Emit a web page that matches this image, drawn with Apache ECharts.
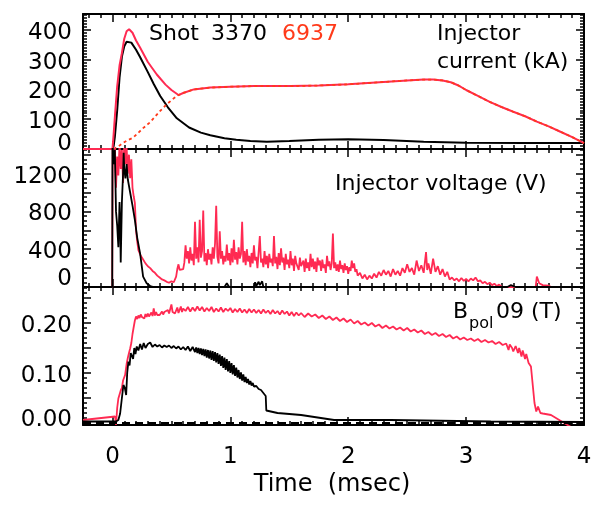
<!DOCTYPE html>
<html><head><meta charset="utf-8">
<script src="https://cdn.jsdelivr.net/npm/echarts@6/dist/echarts.min.js"></script>
<style>html,body{margin:0;padding:0;background:#fff}#c{width:594px;height:510px}</style>
</head><body><div id="c"></div>
<script>
// ---------- tick labels ----------
const timeTicks = [0, 1, 2, 3, 4];
const currentTicks = [0, 100, 200, 300, 400];
const voltageTicks = [0, 400, 800, 1200];
const bpolTicks = [0, 0.1, 0.2];

// ---------- Injector current (kA) ----------
const current3370 = [[-0.25,0],[0,0],[0.01,10],[0.02,40],[0.04,130],[0.06,240],[0.08,310],[0.1,345],[0.12,360],[0.135,364],[0.16,357],[0.2,333],[0.235,308],[0.3,258],[0.35,218],[0.405,178],[0.47,140],[0.546,103],[0.65,72],[0.75,55],[0.83,46],[0.95,36],[1.05,31],[1.17,27],[1.31,24],[1.5,27],[1.75,31],[2.0,33],[2.3,30],[2.64,24],[3.0,21],[3.5,20],[4.0,20]];
const current6937 = [[-0.25,0],[0,0],[0.01,50],[0.022,117],[0.04,210],[0.06,280],[0.079,320],[0.1,370],[0.12,395],[0.141,402],[0.17,390],[0.2,364],[0.235,340],[0.3,292],[0.376,250],[0.45,216],[0.5,198],[0.56,181],[0.6,188],[0.69,200],[0.83,206],[1.0,209],[1.2,211],[1.51,211],[1.75,213],[2.0,217],[2.3,225],[2.5,230],[2.64,233],[2.72,233],[2.8,230],[2.87,224],[2.93,214],[3.0,198],[3.1,178],[3.2,158],[3.3,141],[3.4,125],[3.5,110],[3.6,92],[3.7,76],[3.8,58],[3.9,40],[4.0,20]];
const current6937Bank = [[0.01,0],[0.06,12],[0.12,28],[0.175,38],[0.26,70],[0.32,90],[0.405,128],[0.46,150],[0.52,170],[0.56,181]];

// ---------- Injector voltage (V) ----------
const voltage3370 = [[-0.25,0],[-0.002,0],[0,1520],[0.01,1300],[0.02,1450],[0.03,800],[0.04,650],[0.05,420],[0.06,900],[0.065,700],[0.07,260],[0.08,900],[0.09,1200],[0.095,1420],[0.1,1250],[0.11,1150],[0.12,1300],[0.13,1140],[0.15,1000],[0.17,860],[0.19,710],[0.21,520],[0.235,350],[0.26,110],[0.29,40],[0.32,10],[0.35,0],[0.95,0],[0.97,40],[0.99,0],[1.2,0],[1.21,50],[1.22,10],[1.24,55],[1.25,20],[1.27,60],[1.28,0],[3.35,0],[3.38,20],[3.42,0],[4.0,0]];
const voltage6937 = [[-0.25,0],[-0.002,0],[0,0],[0.002,1520],[0.01,1300],[0.02,1520],[0.03,1050],[0.04,1380],[0.05,1180],[0.06,1520],[0.07,1250],[0.08,1450],[0.09,1100],[0.1,1520],[0.11,1300],[0.12,1480],[0.13,1200],[0.14,1400],[0.15,1150],[0.16,1350],[0.17,1050],[0.18,960],[0.19,890],[0.2,600],[0.21,480],[0.22,390],[0.24,330],[0.26,290],[0.28,250],[0.3,220],[0.32,200],[0.34,170],[0.36,150],[0.38,120],[0.4,100],[0.42,80],[0.44,70],[0.46,55],[0.48,45],[0.5,60],[0.52,50],[0.54,110],[0.55,190],[0.56,240],[0.57,180],[0.58,170],[0.6,190],[0.61,260],[0.62,440],[0.63,300],[0.64,380],[0.65,250],[0.66,420],[0.67,280],[0.68,350],[0.69,230],[0.7,690],[0.71,300],[0.72,420],[0.73,260],[0.74,710],[0.75,310],[0.76,380],[0.77,810],[0.78,270],[0.79,360],[0.8,230],[0.81,400],[0.82,290],[0.83,350],[0.84,240],[0.85,420],[0.86,300],[0.87,460],[0.88,860],[0.89,320],[0.9,250],[0.91,590],[0.92,300],[0.93,380],[0.94,240],[0.95,330],[0.96,270],[0.97,450],[0.98,280],[0.99,360],[1.0,230],[1.01,410],[1.02,260],[1.03,500],[1.04,290],[1.05,370],[1.06,240],[1.07,420],[1.08,300],[1.09,350],[1.1,690],[1.11,260],[1.12,380],[1.13,230],[1.14,400],[1.15,270],[1.16,330],[1.17,210],[1.18,360],[1.19,250],[1.2,440],[1.21,280],[1.22,320],[1.23,200],[1.24,370],[1.25,540],[1.26,260],[1.27,300],[1.28,210],[1.29,380],[1.3,240],[1.31,330],[1.32,200],[1.33,350],[1.34,260],[1.35,300],[1.36,220],[1.37,540],[1.38,250],[1.39,320],[1.4,190],[1.41,360],[1.42,230],[1.43,410],[1.44,260],[1.45,310],[1.46,180],[1.47,350],[1.48,240],[1.49,290],[1.5,200],[1.51,380],[1.52,230],[1.53,300],[1.54,170],[1.55,330],[1.56,250],[1.57,270],[1.58,180],[1.59,310],[1.6,220],[1.62,280],[1.63,160],[1.64,300],[1.65,200],[1.66,260],[1.67,170],[1.68,350],[1.69,210],[1.7,300],[1.71,190],[1.72,270],[1.73,160],[1.74,310],[1.75,230],[1.76,280],[1.77,170],[1.78,290],[1.79,200],[1.8,240],[1.81,150],[1.82,330],[1.83,220],[1.84,270],[1.85,180],[1.86,250],[1.87,565],[1.88,200],[1.89,260],[1.9,170],[1.91,240],[1.92,160],[1.93,280],[1.94,190],[1.95,230],[1.96,150],[1.97,250],[1.98,180],[1.99,220],[2.0,140],[2.01,210],[2.02,170],[2.03,280],[2.04,200],[2.05,250],[2.06,160],[2.07,190],[2.08,120],[2.1,150],[2.12,90],[2.14,130],[2.16,80],[2.18,120],[2.2,90],[2.22,140],[2.24,100],[2.26,160],[2.28,120],[2.3,180],[2.32,130],[2.34,170],[2.36,110],[2.38,190],[2.4,130],[2.42,170],[2.44,120],[2.46,200],[2.48,150],[2.5,240],[2.52,160],[2.54,200],[2.56,130],[2.58,280],[2.6,170],[2.62,230],[2.64,150],[2.66,370],[2.67,180],[2.68,250],[2.7,140],[2.72,300],[2.74,160],[2.76,220],[2.78,130],[2.8,190],[2.82,110],[2.84,160],[2.86,80],[2.88,100],[2.9,70],[2.92,90],[2.94,60],[2.96,95],[2.98,65],[3.0,85],[3.02,60],[3.04,90],[3.06,70],[3.08,100],[3.1,60],[3.12,70],[3.14,40],[3.16,55],[3.18,30],[3.2,45],[3.22,20],[3.24,35],[3.26,10],[3.28,25],[3.3,5],[3.35,0],[3.5,0],[3.59,0],[3.6,110],[3.62,40],[3.65,20],[3.7,15],[3.72,0],[4.0,0]];

// ---------- Bpol09 (T) ----------
const bpol3370 = [[-0.25,0.003],[0.03,0.003],[0.05,0.006],[0.065,0.019],[0.08,0.05],[0.093,0.076],[0.105,0.07],[0.116,0.056],[0.125,0.1],[0.135,0.123],[0.145,0.115],[0.155,0.14],[0.164,0.143],[0.175,0.128],[0.185,0.15],[0.195,0.138],[0.206,0.153],[0.22,0.145],[0.235,0.158],[0.25,0.147],[0.265,0.16],[0.28,0.15],[0.3,0.158],[0.32,0.161],[0.34,0.152],[0.36,0.157],[0.38,0.153],[0.4,0.156],[0.42,0.151],[0.44,0.155],[0.46,0.152],[0.48,0.155],[0.5,0.15],[0.52,0.154],[0.54,0.149],[0.56,0.153],[0.58,0.147],[0.6,0.152],[0.62,0.146],[0.64,0.153],[0.66,0.144],[0.68,0.152],[0.7,0.142],[0.71,0.151],[0.72,0.14],[0.73,0.15],[0.74,0.138],[0.75,0.149],[0.76,0.136],[0.77,0.148],[0.78,0.134],[0.79,0.147],[0.8,0.131],[0.81,0.146],[0.82,0.129],[0.83,0.145],[0.84,0.126],[0.85,0.144],[0.86,0.124],[0.87,0.142],[0.88,0.121],[0.89,0.14],[0.9,0.118],[0.91,0.137],[0.92,0.114],[0.93,0.134],[0.94,0.11],[0.95,0.131],[0.96,0.106],[0.97,0.128],[0.98,0.103],[0.99,0.124],[1.0,0.1],[1.01,0.12],[1.02,0.097],[1.03,0.116],[1.04,0.094],[1.05,0.111],[1.06,0.091],[1.07,0.106],[1.08,0.088],[1.09,0.101],[1.1,0.085],[1.11,0.097],[1.12,0.082],[1.13,0.092],[1.14,0.08],[1.15,0.088],[1.16,0.077],[1.17,0.084],[1.18,0.075],[1.19,0.08],[1.2,0.073],[1.22,0.074],[1.24,0.068],[1.26,0.066],[1.28,0.06],[1.3,0.054],[1.305,0.025],[1.4,0.02],[1.6,0.016],[1.88,0.006],[2.36,0.006],[3.21,0.003],[4.0,0.002]];
const bpol6937 = [[-0.25,0.006],[0.022,0.013],[0.03,-0.004],[0.04,0.03],[0.05,0.049],[0.06,0.045],[0.07,0.065],[0.08,0.07],[0.09,0.085],[0.107,0.096],[0.12,0.118],[0.13,0.13],[0.14,0.14],[0.15,0.149],[0.16,0.16],[0.17,0.178],[0.178,0.189],[0.19,0.205],[0.2,0.213],[0.21,0.208],[0.22,0.215],[0.23,0.21],[0.24,0.217],[0.25,0.212],[0.26,0.216],[0.27,0.209],[0.28,0.218],[0.29,0.212],[0.3,0.219],[0.31,0.213],[0.32,0.217],[0.33,0.221],[0.34,0.214],[0.35,0.229],[0.36,0.215],[0.37,0.222],[0.38,0.216],[0.39,0.22],[0.4,0.216],[0.42,0.223],[0.43,0.217],[0.44,0.222],[0.45,0.218],[0.47,0.226],[0.48,0.219],[0.5,0.237],[0.51,0.222],[0.52,0.226],[0.53,0.219],[0.55,0.231],[0.56,0.22],[0.58,0.233],[0.59,0.222],[0.6,0.229],[0.62,0.224],[0.64,0.232],[0.66,0.223],[0.68,0.231],[0.7,0.224],[0.72,0.233],[0.74,0.225],[0.76,0.232],[0.78,0.223],[0.8,0.23],[0.82,0.224],[0.84,0.232],[0.86,0.222],[0.88,0.229],[0.9,0.223],[0.92,0.231],[0.94,0.222],[0.96,0.229],[0.98,0.224],[1.0,0.23],[1.02,0.221],[1.04,0.228],[1.06,0.222],[1.08,0.229],[1.1,0.221],[1.12,0.227],[1.14,0.22],[1.16,0.228],[1.18,0.221],[1.2,0.227],[1.22,0.22],[1.24,0.226],[1.26,0.219],[1.28,0.227],[1.3,0.22],[1.32,0.225],[1.34,0.218],[1.36,0.226],[1.38,0.219],[1.4,0.224],[1.42,0.217],[1.44,0.225],[1.46,0.218],[1.48,0.223],[1.5,0.215],[1.52,0.222],[1.54,0.214],[1.56,0.221],[1.58,0.215],[1.6,0.22],[1.63,0.212],[1.66,0.219],[1.69,0.213],[1.72,0.217],[1.75,0.21],[1.78,0.215],[1.81,0.208],[1.84,0.213],[1.87,0.206],[1.9,0.211],[1.93,0.204],[1.96,0.209],[1.99,0.202],[2.02,0.207],[2.05,0.199],[2.08,0.204],[2.11,0.197],[2.14,0.201],[2.17,0.195],[2.2,0.2],[2.23,0.193],[2.26,0.197],[2.29,0.19],[2.32,0.195],[2.35,0.189],[2.38,0.193],[2.41,0.187],[2.44,0.191],[2.47,0.185],[2.5,0.19],[2.53,0.183],[2.56,0.187],[2.59,0.181],[2.62,0.185],[2.65,0.178],[2.68,0.182],[2.71,0.176],[2.74,0.18],[2.77,0.174],[2.8,0.178],[2.83,0.172],[2.86,0.176],[2.89,0.169],[2.92,0.173],[2.95,0.167],[2.98,0.171],[3.01,0.166],[3.04,0.169],[3.07,0.164],[3.1,0.168],[3.13,0.162],[3.16,0.166],[3.19,0.161],[3.22,0.164],[3.25,0.158],[3.28,0.162],[3.31,0.156],[3.34,0.159],[3.36,0.146],[3.37,0.157],[3.39,0.15],[3.4,0.143],[3.42,0.154],[3.44,0.14],[3.45,0.15],[3.47,0.133],[3.48,0.145],[3.5,0.128],[3.51,0.138],[3.53,0.12],[3.55,0.113],[3.58,0.04],[3.595,0.023],[3.61,0.033],[3.63,0.02],[3.65,0.019],[3.72,0.016],[3.86,-0.004],[3.92,-0.012]];
const bpolZero = [[-0.25,0],[4,0]];

// ---------- layout ----------
const FONT = 'DejaVu Sans';
const RED = '#ff2a52';
const RED_DASH = '#ff3a1a';
const LABEL_SIZE = 23;
const grids = [
  {left:83, right:10, top:14, height:135},
  {left:83, right:10, top:149, height:138},
  {left:83, right:10, top:287, height:138}
];
function steps(a, b, s) { const o = []; const n = Math.round((b - a) / s); for (let i = 0; i <= n; i++) o.push(+(a + i * s).toFixed(6)); return o; }
const xMinor = steps(-0.2, 4, 0.1);
const yCfg = [
  {min:0, max:453, major:steps(0,400,100), minor:steps(0,450,10), labels:currentTicks, fmt:v=>String(v), zshift:10},
  {min:0, max:1460, major:steps(0,1400,200), minor:steps(0,1450,50), labels:voltageTicks, fmt:v=>String(v), zshift:15},
  {min:-0.004, max:0.272, major:steps(0,0.25,0.05), minor:steps(0,0.27,0.01), labels:bpolTicks, fmt:v=>v.toFixed(2), zshift:6}
];
const tickStyle = {color:'#000', width:1.5};
const lineSty = {color:'#000', width:2};
const xAxis = [], yAxis = [];
grids.forEach((g, i) => {
  ['bottom','top'].forEach(pos => {
    xAxis.push({gridIndex:i, type:'value', min:-0.25, max:4, position:pos, splitLine:{show:false},
      axisLine:{show:true, onZero:false, lineStyle:lineSty},
      axisTick:{show:true, inside:true, length:4, customValues:xMinor, lineStyle:tickStyle},
      axisLabel:{show:false}});
    xAxis.push({gridIndex:i, type:'value', min:-0.25, max:4, position:pos, splitLine:{show:false},
      axisLine:{show:false, onZero:false},
      axisTick:{show:true, inside:true, length:8, customValues:timeTicks, lineStyle:tickStyle},
      axisLabel:{show:(pos==='bottom' && i===2), customValues:timeTicks, fontFamily:FONT, fontSize:LABEL_SIZE, color:'#000', margin:21}});
  });
  const c = yCfg[i];
  const zeroLabels = c.labels.filter(v => Math.abs(v) < 1e-9);
  const otherLabels = c.labels.filter(v => Math.abs(v) >= 1e-9);
  ['left','right'].forEach(pos => {
    // minor ticks + axis line (+ the zero label, raised as in the original)
    yAxis.push({gridIndex:i, type:'value', min:c.min, max:c.max, position:pos, splitLine:{show:false},
      axisLine:{show:true, onZero:false, lineStyle:lineSty},
      axisTick:{show:true, inside:true, length:4, customValues:c.minor, lineStyle:tickStyle},
      axisLabel:{show:pos==='left', customValues:zeroLabels, margin:11,
        formatter: v => '{z|' + c.fmt(v) + '}',
        rich:{ z:{fontFamily:FONT, fontSize:LABEL_SIZE, color:'#000', padding:[0,0,c.zshift,0]} }}});
    // major ticks + other labels
    yAxis.push({gridIndex:i, type:'value', min:c.min, max:c.max, position:pos, splitLine:{show:false},
      axisLine:{show:false, onZero:false},
      axisTick:{show:true, inside:true, length:8, customValues:c.major, lineStyle:tickStyle},
      axisLabel:{show:pos==='left', customValues:otherLabels, margin:11,
        formatter: v => '{n|' + c.fmt(v) + '}',
        rich:{ n:{fontFamily:FONT, fontSize:LABEL_SIZE, color:'#000', padding:[6,0,0,0]} }}});
  });
});

function line(data, gi, color, type, width) {
  return {type:'line', data:data, xAxisIndex:gi*4, yAxisIndex:gi*4, showSymbol:false, symbol:'none',
    animation:false, silent:true, clip:true, lineStyle:{color:color, width:width||2, type:type||'solid'}};
}
const bankFull = current6937Bank.concat(current6937.filter(p => p[0] > 0.56));

const option = {
  animation:false,
  grid: grids.map(g => Object.assign({containLabel:false, outerBoundsMode:'none'}, g)),
  xAxis, yAxis,
  series: [
    line(current3370, 0, '#000'),
    line(current6937, 0, RED),
    line(bankFull, 0, RED_DASH, [3,3], 1.8),
    line(voltage6937, 1, RED, 'solid', 1.8),
    line(voltage3370, 1, '#000', 'solid', 1.8),
    line(bpol6937, 2, RED, 'solid', 1.8),
    line(bpol3370, 2, '#000', 'solid', 1.8),
    line(bpolZero, 2, '#000', [8,5], 2)
  ],
  graphic: [
    {type:'text', x:149, y:34, style:{text:'Shot', fontFamily:FONT, fontSize:22, fill:'#000', align:'left', verticalAlign:'middle'}},
    {type:'text', x:211, y:34, style:{text:'3370', fontFamily:FONT, fontSize:22, fill:'#000', align:'left', verticalAlign:'middle'}},
    {type:'text', x:282, y:34, style:{text:'6937', fontFamily:FONT, fontSize:22, fill:RED_DASH, align:'left', verticalAlign:'middle'}},
    {type:'text', x:437, y:34, style:{text:'Injector', fontFamily:FONT, fontSize:22, fill:'#000', align:'left', verticalAlign:'middle'}},
    {type:'text', x:437, y:62, style:{text:'current (kA)', fontFamily:FONT, fontSize:22, fill:'#000', align:'left', verticalAlign:'middle'}},
    {type:'text', x:335, y:184, style:{text:'Injector voltage (V)', fontFamily:FONT, fontSize:22, fill:'#000', align:'left', verticalAlign:'middle'}},
    {type:'text', x:453, y:312, style:{text:'B', fontFamily:FONT, fontSize:22, fill:'#000', align:'left', verticalAlign:'middle'}},
    {type:'text', x:469, y:324, style:{text:'pol', fontFamily:FONT, fontSize:16, fill:'#000', align:'left', verticalAlign:'middle'}},
    {type:'text', x:496, y:312, style:{text:'09 (T)', fontFamily:FONT, fontSize:22, fill:'#000', align:'left', verticalAlign:'middle'}},
    {type:'text', x:332, y:485, style:{text:'Time  (msec)', fontFamily:FONT, fontSize:24, fill:'#000', align:'center', verticalAlign:'middle'}}
  ]
};
const chart = echarts.init(document.getElementById('c'), null, {renderer:'canvas'});
chart.setOption(option);
</script>
</body></html>
